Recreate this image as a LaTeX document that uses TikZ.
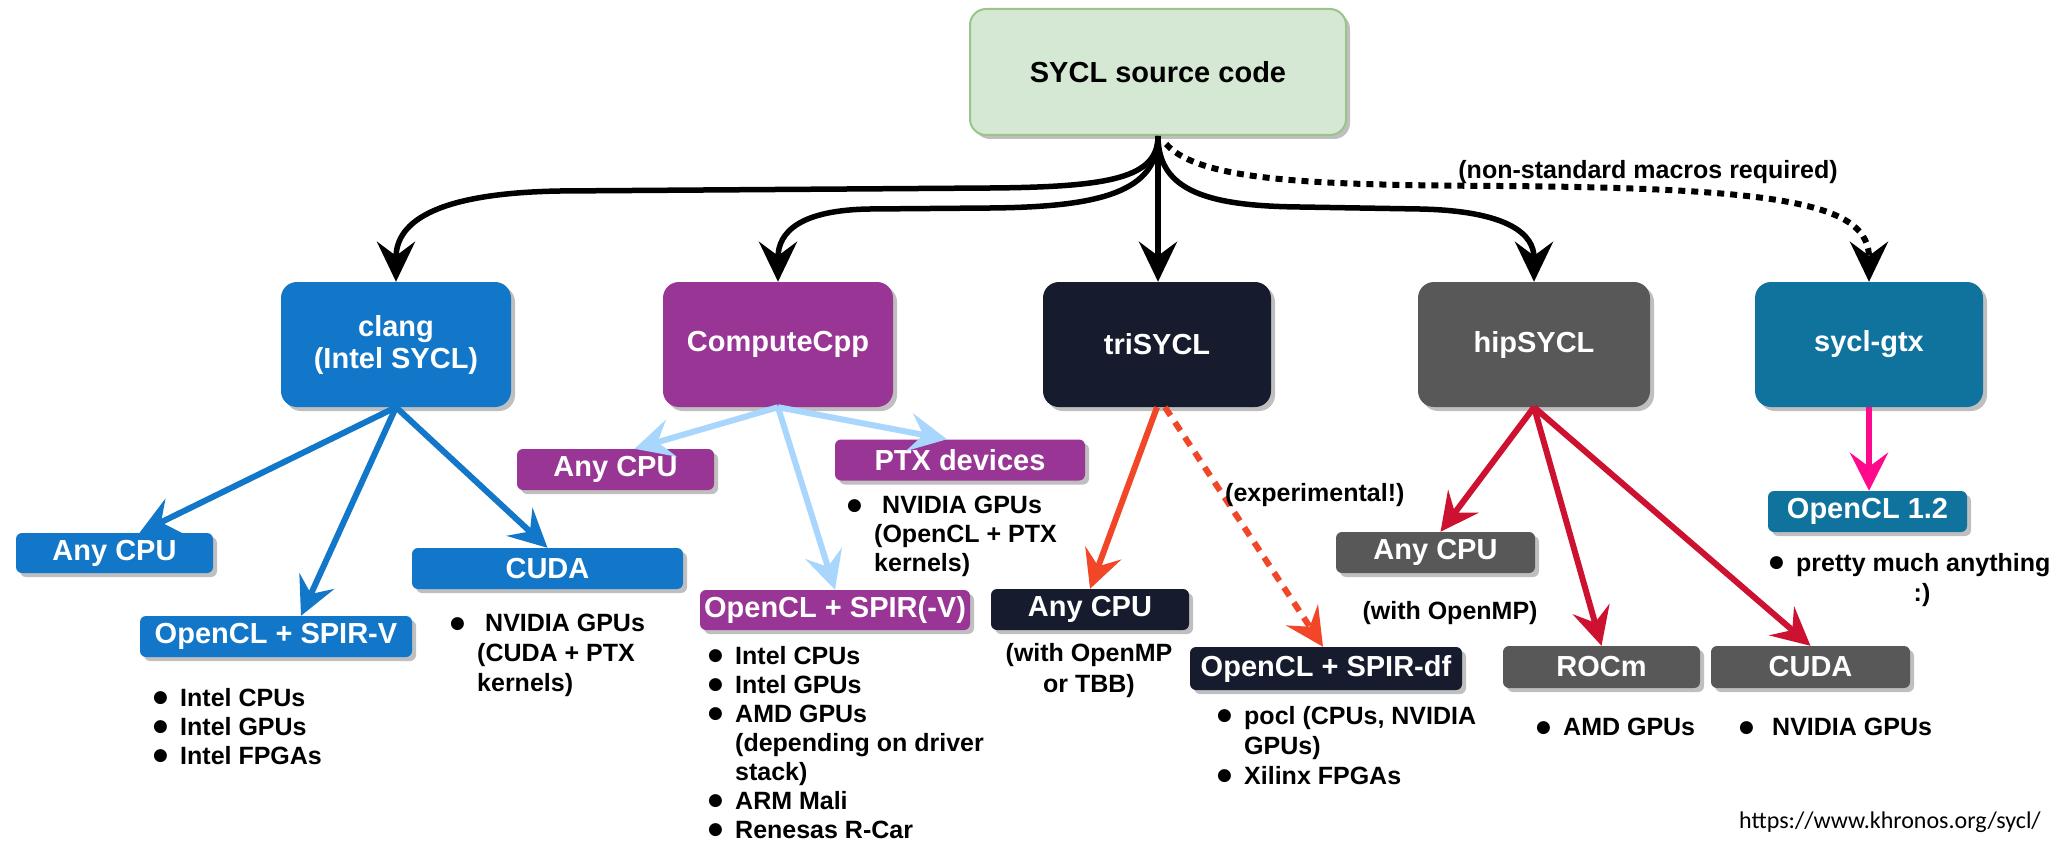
\documentclass[tikz,border=0pt]{standalone}
\usepackage{fontspec}
\setmainfont{Liberation Sans}
\newfontfamily\urlfont{Carlito}
\newfontfamily\dejavu{DejaVu Sans}
\usetikzlibrary{arrows.meta,shadows}
\definecolor{srcfill}{HTML}{D5E8D4}
\definecolor{srcline}{HTML}{9CC48A}
\definecolor{cblue}{HTML}{1277C8}
\definecolor{cpurple}{HTML}{993595}
\definecolor{cnavy}{HTML}{161C2D}
\definecolor{cgray}{HTML}{585858}
\definecolor{cteal}{HTML}{10739E}
\definecolor{alblue}{HTML}{A9D6FD}
\definecolor{aorange}{HTML}{F24628}
\definecolor{acrimson}{HTML}{CD1130}
\definecolor{apink}{HTML}{FF0A8C}
\newcommand\bul{\raisebox{3.5pt}{\dejavu\fontsize{17}{20}\selectfont ●}}
\newcommand\li[1]{\makebox[27pt][l]{\bul}#1}
\newcommand\ct{\hspace*{27pt}}
\begin{document}
\begin{tikzpicture}[x=1pt,y=-1pt,
  shd/.style={drop shadow={shadow xshift=4pt,shadow yshift=-4pt,opacity=0.25,fill=black}},
  topbox/.style={shd,rounded corners=16pt,minimum width=230pt,minimum height=125pt,inner sep=0pt,
     text=white,font=\fontsize{29}{32}\selectfont\bfseries,align=center},
  subbox/.style={shd,rounded corners=6pt,minimum height=41pt,inner sep=0pt,
     text=white,font=\fontsize{29}{32}\selectfont\bfseries},
  lst/.style={anchor=north west,inner sep=0pt,align=left,font=\fontsize{25}{29}\selectfont\bfseries},
  lbl/.style={inner sep=0pt,align=center,font=\fontsize{25}{31}\selectfont\bfseries},
  blk/.style={line width=5.5pt,-{Stealth[length=40pt,width=38pt,inset=14pt]}},
  col/.style={line width=6pt,-{Stealth[length=38pt,width=38pt,inset=14pt]}}
]
\useasboundingbox[fill=white] (0,0) rectangle (2055,848);

% top level
\node[shd,rounded corners=16pt,minimum width=376pt,minimum height=126pt,inner sep=0pt,
  fill=srcfill,draw=srcline,line width=2pt,font=\fontsize{29}{32}\selectfont\bfseries] (src) at (1158,72) {SYCL source code};
\node[topbox,fill=cblue] (clang) at (396,344.5) {clang\\(Intel SYCL)};
\node[topbox,fill=cpurple] (ccpp) at (778,344.5) {ComputeCpp};
\node[topbox,fill=cnavy,minimum width=228pt] (tri) at (1157,344.5) {triSYCL};
\node[topbox,fill=cgray,minimum width=232pt] (hip) at (1534,344.5) {hipSYCL};
\node[topbox,fill=cteal,minimum width=228pt] (gtx) at (1869,344.5) {sycl-gtx};

% second level
\node[subbox,fill=cblue,minimum width=197pt,minimum height=40pt] (clangcpu) at (114.5,553) {Any CPU};
\node[subbox,fill=cblue,minimum width=271pt] (clangcuda) at (547.5,568.5) {CUDA};
\node[subbox,fill=cblue,minimum width=272pt] (clangspir) at (276,636.5) {OpenCL + SPIR-V};
\node[subbox,fill=cpurple,minimum width=197pt] (ccpu) at (615.5,469.5) {Any CPU};
\node[subbox,fill=cpurple,minimum width=250pt] (ptx) at (960,460) {PTX devices};
\node[subbox,fill=cpurple,minimum width=270pt,minimum height=40pt] (cspir) at (835,610) {OpenCL + SPIR(-V)};
\node[subbox,fill=cnavy,minimum width=198pt] (tcpu) at (1090,609.5) {Any CPU};
\node[subbox,fill=cnavy,minimum width=272pt,minimum height=43pt] (tspir) at (1326,668.5) {OpenCL + SPIR-df};
\node[subbox,fill=cgray,minimum width=199pt] (hcpu) at (1435.5,552.5) {Any CPU};
\node[subbox,fill=cgray,minimum width=197pt,minimum height=42pt] (hrocm) at (1601.5,667) {ROCm};
\node[subbox,fill=cgray,minimum width=199pt,minimum height=42pt] (hcuda) at (1810.5,667) {CUDA};
\node[subbox,fill=cteal,minimum width=199pt] (gcl) at (1867.5,511.5) {OpenCL 1.2};

% black connectors from source
\draw[blk] (src.south) .. controls (1158,178) and (1110,187) .. (990,188) -- (560,191)
   .. controls (440,193) and (396,220) .. (clang.north);
\draw[blk] (src.south) .. controls (1158,192) and (1100,207) .. (990,208) -- (870,209)
   .. controls (800,210) and (778,232) .. (ccpp.north);
\draw[blk] (src.south) -- (src.south |- tri.north);
\draw[blk] (src.south) .. controls (1158,192) and (1210,206) .. (1300,207) -- (1420,209)
   .. controls (1510,211) and (1534,235) .. (hip.north);
\draw[blk,line width=6pt,dash pattern=on 7pt off 6pt]
   ([xshift=8pt,yshift=-8pt]src.south) .. controls (1200,182) and (1320,185) .. (1500,186)
   .. controls (1790,188) and (1869,205) .. (gtx.north);
\node[lbl] (nsm) at (1648,172) {(non-standard macros required)};

% clang
\draw[col,cblue] (clang.south) -- ([xshift=25pt]clangcpu.north);
\draw[col,cblue] (clang.south) -- ([xshift=25pt]clangspir.north);
\draw[col,cblue] (clang.south) -- (clangcuda.north);

% ComputeCpp
\draw[col,alblue] (ccpp.south) -- ([xshift=19pt]ccpu.north);
\draw[col,alblue] (ccpp.south) -- ([xshift=-13pt]ptx.north);
\draw[col,alblue] (ccpp.south) -- (cspir.north);

% triSYCL
\draw[col,aorange] (tri.south) -- (tcpu.north);
\draw[col,aorange,dash pattern=on 10pt off 8pt] ([xshift=8pt]tri.south) -- ([xshift=-3pt]tspir.north);
\node[lbl,anchor=west] (exp) at (1225,495) {(experimental!)};

% hipSYCL
\draw[col,acrimson] (hip.south) -- ([xshift=5pt]hcpu.north);
\draw[col,acrimson] (hip.south) -- (hrocm.north);
\draw[col,acrimson] (hip.south) -- (hcuda.north);

% sycl-gtx
\draw[col,apink] (gtx.south) -- (gtx.south |- gcl.north);

% lists and notes
\node[lst] (l1) at (153,688) {\li{Intel CPUs}\\\li{Intel GPUs}\\\li{Intel FPGAs}};
\node[lst,font=\fontsize{25}{30}\selectfont\bfseries] (l2) at (450,614) {\li{\hspace{8pt}NVIDIA GPUs}\\\ct(CUDA + PTX\\\ct kernels)};
\node[lst] (l3) at (847,496) {\li{\hspace{8pt}NVIDIA GPUs}\\\ct(OpenCL + PTX\\\ct kernels)};
\node[lst] (l4) at (708,646) {\li{Intel CPUs}\\\li{Intel GPUs}\\\li{AMD GPUs}\\\ct(depending on driver\\\ct stack)\\\li{ARM Mali}\\\li{Renesas R-Car}};
\node[lbl] (n1) at (1089,671) {(with OpenMP\\or TBB)};
\node[lst,font=\fontsize{25}{30}\selectfont\bfseries] (l5) at (1217,706) {\li{pocl (CPUs, NVIDIA}\\\ct GPUs)\\\li{Xilinx FPGAs}};
\node[lbl] (n2) at (1450,613) {(with OpenMP)};
\node[lst] (l6) at (1536,718) {\li{AMD GPUs}};
\node[lst] (l7) at (1739,718) {\li{\hspace{6pt}NVIDIA GPUs}};
\node[lst] (l8) at (1769,553) {\li{pretty much anything}};
\node[lbl] (n3) at (1922,595) {:)};
\node[inner sep=0pt,font=\urlfont\fontsize{24}{28}\selectfont] (url) at (1890,822) {https://www.khronos.org/sycl/};
\end{tikzpicture}
\end{document}
